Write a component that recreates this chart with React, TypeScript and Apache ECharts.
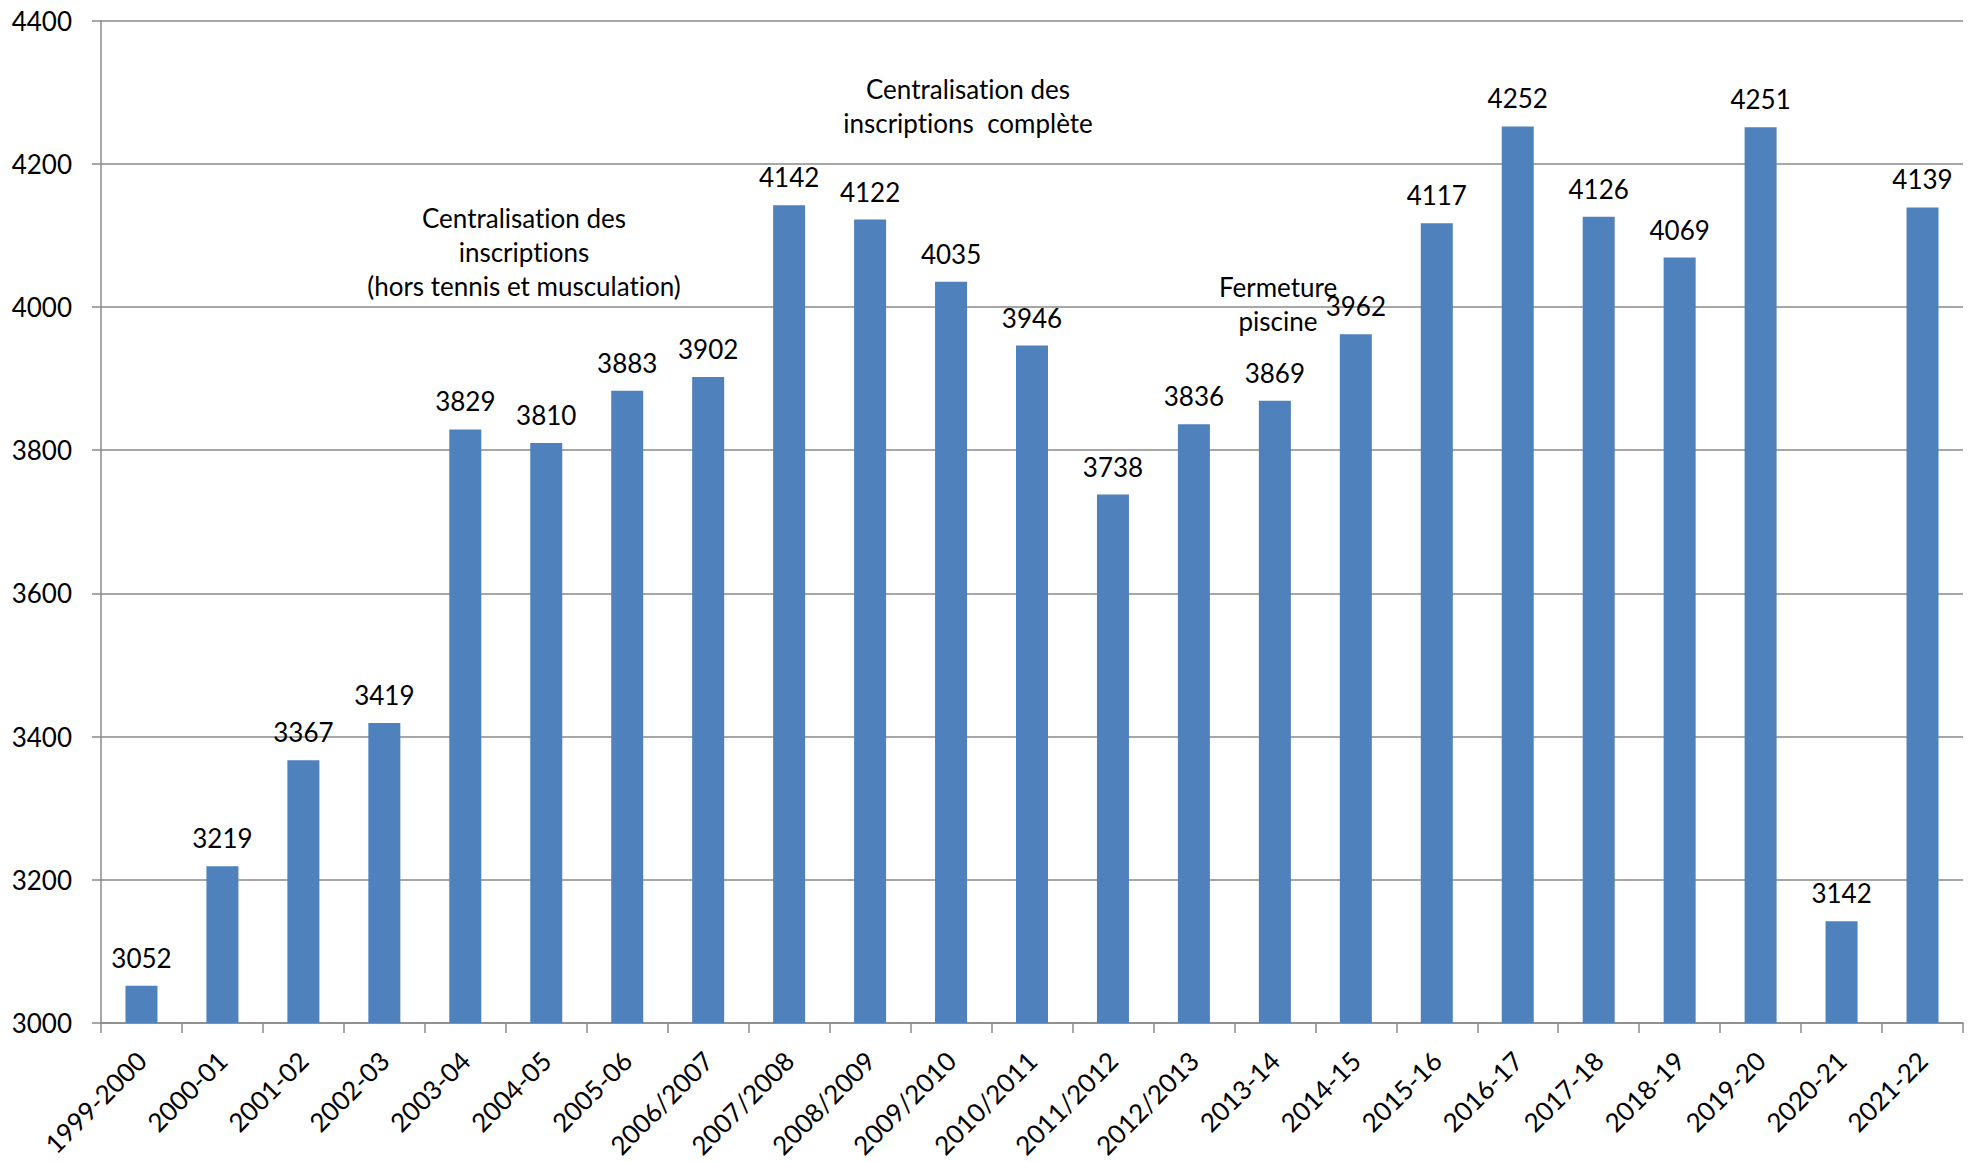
import React, { useEffect, useRef } from "react";
import * as echarts from "echarts";

const categories = [
  "1999-2000", "2000-01", "2001-02", "2002-03", "2003-04", "2004-05", "2005-06",
  "2006/2007", "2007/2008", "2008/2009", "2009/2010", "2010/2011", "2011/2012",
  "2012/2013", "2013-14", "2014-15", "2015-16", "2016-17", "2017-18", "2018-19",
  "2019-20", "2020-21", "2021-22",
];

const inscriptions = [
  3052, 3219, 3367, 3419, 3829, 3810, 3883, 3902, 4142, 4122, 4035, 3946, 3738,
  3836, 3869, 3962, 4117, 4252, 4126, 4069, 4251, 3142, 4139,
];

const yMin = 3000;
const yMax = 4400;
const yStep = 200;

const annotations = [
  { text: "Centralisation des\ninscriptions\n(hors tennis et musculation)", x: 524, y: 201 },
  { text: "Centralisation des\ninscriptions  complète", x: 968, y: 72 },
  { text: "Fermeture\npiscine", x: 1278, y: 270 },
];

const FONT = "Lato, 'Open Sans', sans-serif";
const FS = 26;
const AXIS_GRAY = "#8a8a8a";

export default function App() {
  const ref = useRef<HTMLDivElement>(null);

  useEffect(() => {
    const st = document.createElement("style");
    st.textContent = "body{margin:0} text{font-variant-ligatures:none;font-feature-settings:'liga' 0,'clig' 0,'dlig' 0;}";
    document.head.appendChild(st);
    if (!ref.current) return;
    const chart = echarts.init(ref.current, undefined, { renderer: "svg" });
    chart.setOption({
      animation: false,
      backgroundColor: "#ffffff",
      grid: {
        left: 101,
        right: 12,
        top: 20.5,
        bottom: 139,
        containLabel: false,
        outerBoundsMode: "none",
      },
      xAxis: {
        type: "category",
        data: categories,
        boundaryGap: true,
        axisLine: { show: true, lineStyle: { color: AXIS_GRAY, width: 1.5 } },
        axisTick: { show: true, interval: 0, alignWithLabel: false, length: 10, lineStyle: { color: AXIS_GRAY, width: 1.5 } },
        axisLabel: {
          interval: 0,
          rotate: 45,
          margin: 33,
          color: "#000",
          fontSize: FS,
          fontFamily: FONT,
        },
        splitLine: { show: false },
      },
      yAxis: {
        type: "value",
        min: yMin,
        max: yMax,
        interval: yStep,
        axisLine: { show: true, lineStyle: { color: AXIS_GRAY, width: 1.5 } },
        axisTick: { show: true, length: 9, lineStyle: { color: AXIS_GRAY, width: 1.5 } },
        axisLabel: {
          margin: 29,
          color: "#000",
          fontSize: FS,
          fontFamily: FONT,
          formatter: (v: number) => String(v),
        },
        splitLine: { show: true, lineStyle: { color: AXIS_GRAY, width: 1.5 } },
      },
      series: [
        {
          type: "bar",
          data: inscriptions,
          barWidth: 32,
          itemStyle: { color: "#4F81BD" },
          label: {
            show: true,
            position: "top",
            distance: 15,
            color: "#000",
            fontSize: FS,
            fontFamily: FONT,
          },
        },
      ],
      graphic: annotations.map((a) => ({
        type: "text",
        x: a.x,
        y: a.y,
        z: 100,
        style: {
          text: a.text,
          align: "center",
          verticalAlign: "top",
          fontSize: FS,
          lineHeight: 34,
          fontFamily: FONT,
          fill: "#000",
        },
      })),
    });
    return () => {
      chart.dispose();
      st.remove();
    };
  }, []);

  return (
    <div
      ref={ref}
      style={{ position: "absolute", left: 0, top: 0, width: 1975, height: 1162, background: "#fff" }}
    />
  );
}
